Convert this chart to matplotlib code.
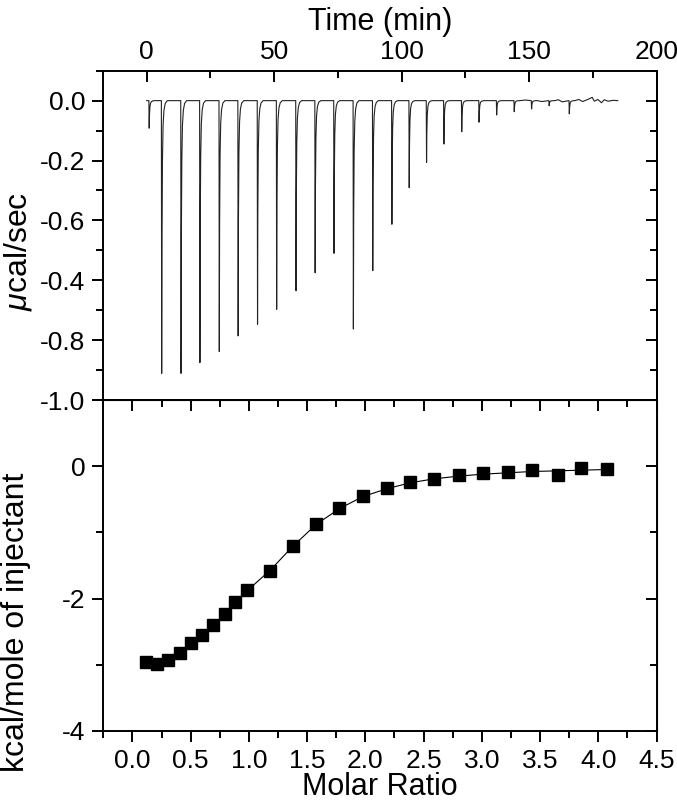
import numpy as np
import matplotlib
matplotlib.use("Agg")
import matplotlib.pyplot as plt
from matplotlib.ticker import MultipleLocator, FixedLocator

plt.rcParams['font.family'] = ['Liberation Sans', 'DejaVu Sans']
plt.rcParams['mathtext.fontset'] = 'custom'
plt.rcParams['mathtext.it'] = 'Liberation Sans:italic'
plt.rcParams['mathtext.rm'] = 'Liberation Sans'
plt.rcParams['axes.unicode_minus'] = False

# --- raw thermogram: injection peaks (time in min, peak depth in ucal/sec)
peak_time = [1.0, 5.9, 13.5, 20.9, 28.5, 35.9, 43.5, 51.0, 58.6, 66.1, 73.5, 81.1,
             88.7, 96.2, 103.0, 109.8, 116.6, 123.6, 130.4, 137.3, 144.2, 151.0,
             157.9, 165.8]
peak_depth = [-0.092, -0.911, -0.911, -0.875, -0.838, -0.786, -0.747, -0.697,
              -0.635, -0.575, -0.510, -0.763, -0.568, -0.413, -0.291, -0.206,
              -0.145, -0.104, -0.072, -0.048, -0.037, -0.028, -0.017, -0.044]
# baseline wiggles seen at the end of the run
noise_time = [148.5, 155.0, 161.5, 163.0, 169.5, 171.0, 172.5, 174.8, 175.6,
              177.0, 178.4, 179.5, 181.0, 183.0]
noise_val = [0.002, -0.003, 0.003, -0.004, 0.004, -0.003, 0.002, 0.011, -0.002,
             0.004, -0.007, 0.003, -0.002, 0.001]
run_start, run_end = 0.0, 184.8

# --- integrated heats
molar_ratio = [0.120, 0.211, 0.305, 0.406, 0.500, 0.597, 0.691, 0.792, 0.883,
               0.986, 1.184, 1.377, 1.578, 1.778, 1.978, 2.185, 2.387, 2.593,
               2.801, 3.013, 3.221, 3.431, 3.650, 3.856, 4.074]
heat = [-2.96, -2.99, -2.92, -2.82, -2.67, -2.55, -2.40, -2.24, -2.05, -1.87,
        -1.58, -1.20, -0.87, -0.63, -0.45, -0.33, -0.24, -0.19, -0.14, -0.11,
        -0.09, -0.06, -0.14, -0.02, -0.04]
fit = [-2.97, -2.98, -2.92, -2.82, -2.67, -2.55, -2.40, -2.24, -2.06, -1.88,
       -1.57, -1.21, -0.88, -0.64, -0.46, -0.34, -0.25, -0.19, -0.15, -0.12,
       -0.10, -0.08, -0.07, -0.06, -0.05]

# shape of one injection spike (relative time, fraction of depth)
shape_dt = [-0.12, 0.0, 0.12, 0.3, 0.55, 0.9, 1.4, 2.2]
shape_f = [0.0, 1.0, 0.5, 0.22, 0.09, 0.035, 0.01, 0.0]

pts = [(run_start, 0.0), (run_end, 0.0)]
for t0, h in zip(peak_time, peak_depth):
    for dt, f in zip(shape_dt, shape_f):
        pts.append((t0 + dt, h * f))
for t, v in zip(noise_time, noise_val):
    pts.append((t, v))
pts.sort()
trace_t = [p[0] for p in pts]
trace_v = [p[1] for p in pts]

W, H = 677, 806
fig = plt.figure(figsize=(W / 100, H / 100), dpi=100)
L, R = 103.3 / W, 656.5 / W
ax1 = fig.add_axes([L, 1 - 400 / H, R - L, (400 - 70.7) / H])
ax2 = fig.add_axes([L, 1 - 731 / H, R - L, (731 - 400) / H])
aw = (656.5 - 103.3)

tick_fs = 19
lab_fs = 22
ylab_fs = 23

for ax in (ax1, ax2):
    for s in ax.spines.values():
        s.set_linewidth(1.4)

# top panel
ax1.plot(trace_t, trace_v, color='#222222', lw=0.8)
ax1.set_xlim(-17, 200)
ax1.set_ylim(-1.0, 0.1)
ax1.xaxis.set_major_locator(MultipleLocator(50))
ax1.xaxis.set_minor_locator(MultipleLocator(25))
ax1.yaxis.set_major_locator(FixedLocator([0, -0.2, -0.4, -0.6, -0.8, -1.0]))
ax1.set_yticklabels(["0.0", "-0.2", "-0.6", "-0.4", "-0.8", "-1.0"])
ax1.yaxis.set_minor_locator(MultipleLocator(0.1))
ax1.tick_params(axis='x', which='both', top=True, bottom=False, labeltop=True,
                labelbottom=False, direction='in')
ax1.tick_params(axis='y', which='both', left=True, right=False, direction='out')
ax1.tick_params(which='major', length=8, width=1.4, labelsize=tick_fs, pad=5)
ax1.tick_params(which='minor', length=5, width=1.4)
ax1r = ax1.secondary_yaxis('right')
ax1r.yaxis.set_major_locator(FixedLocator([0, -0.2, -0.4, -0.6, -0.8, -1.0]))
ax1r.yaxis.set_minor_locator(MultipleLocator(0.1))
ax1r.tick_params(which='both', direction='in', labelright=False, width=1.4)
ax1r.tick_params(which='major', length=8)
ax1r.tick_params(which='minor', length=5)
ax1r.spines['right'].set_linewidth(1.4)
ax1.xaxis.set_label_position('top')
ax1.set_xlabel("Time (min)", fontsize=lab_fs, labelpad=7)
ax1.set_ylabel(r"$\mu$cal/sec", fontsize=ylab_fs)
ax1.yaxis.set_label_coords((34 - 103.3) / aw, (400 - 251.5) / (400 - 70.7))

# bottom panel
ax2.plot(molar_ratio, fit, color='black', lw=0.8)
ax2.plot(molar_ratio, heat, ls='none', marker='s', ms=8.5, color='black')
ax2.set_xlim(-0.25, 4.5)
ax2.set_ylim(-4, 1)
ax2.xaxis.set_major_locator(MultipleLocator(0.5))
ax2.xaxis.set_minor_locator(MultipleLocator(0.25))
ax2.yaxis.set_major_locator(MultipleLocator(2))
ax2.yaxis.set_minor_locator(MultipleLocator(1))
ax2.xaxis.set_major_formatter(plt.FormatStrFormatter('%.1f'))
ax2.yaxis.set_major_formatter(plt.FormatStrFormatter('%d'))
ax2.tick_params(which='both', direction='out', labelsize=tick_fs, width=1.4)
ax2.tick_params(which='major', length=8, pad=5)
ax2.tick_params(which='minor', length=5)
ax2t = ax2.secondary_xaxis('top')
ax2t.xaxis.set_major_locator(MultipleLocator(0.5))
ax2t.xaxis.set_minor_locator(MultipleLocator(0.25))
ax2t.tick_params(which='both', direction='in', labeltop=False, width=1.4)
ax2t.tick_params(which='major', length=8)
ax2t.tick_params(which='minor', length=5)
ax2r = ax2.secondary_yaxis('right')
ax2r.yaxis.set_major_locator(MultipleLocator(2))
ax2r.yaxis.set_minor_locator(MultipleLocator(1))
ax2r.tick_params(which='both', direction='in', labelright=False, width=1.4)
ax2r.tick_params(which='major', length=8)
ax2r.tick_params(which='minor', length=5)
ax2.set_xlabel("Molar Ratio", fontsize=lab_fs)
ax2.xaxis.set_label_coords(0.5, (731 - 772) / (731 - 400))
ax2.set_ylabel("kcal/mole of injectant", fontsize=ylab_fs)
ax2.yaxis.set_label_coords((31 - 103.3) / aw, (731 - 622) / (731 - 400))

fig.savefig("out.png", dpi=100)
